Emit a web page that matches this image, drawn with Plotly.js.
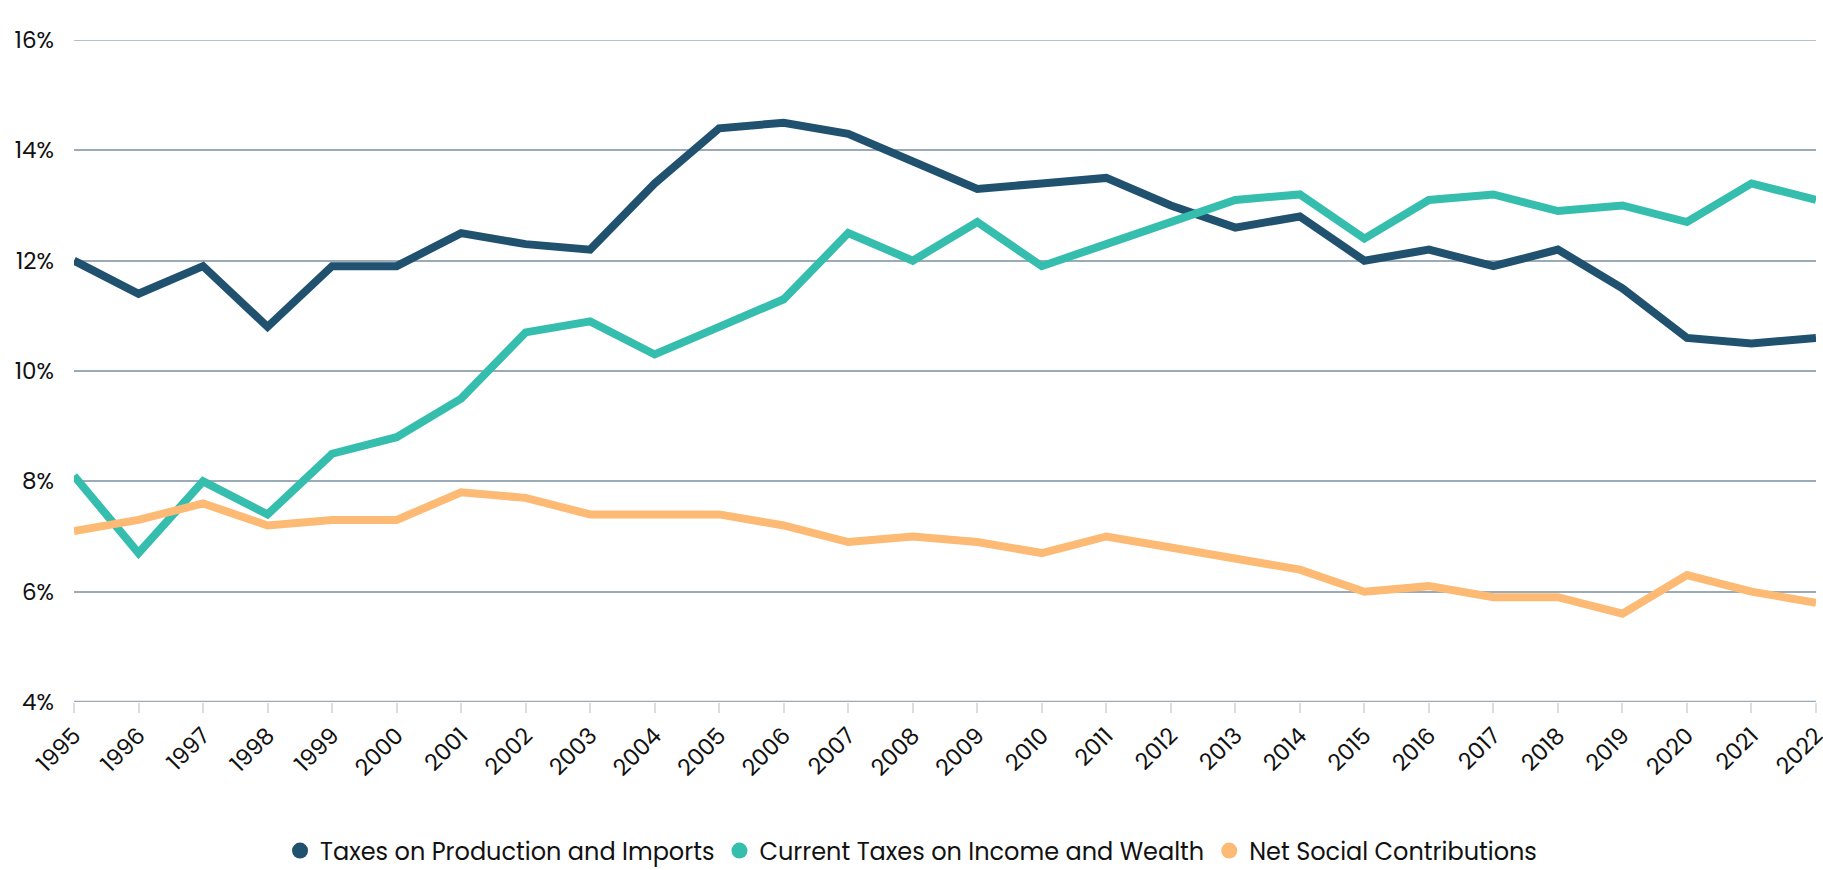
<!DOCTYPE html>
<html>
<head>
<meta charset="utf-8">
<script src="https://cdn.plot.ly/plotly-3.0.1.min.js"></script>
<style>html,body{margin:0;padding:0;background:#fff;}#chart{width:1823px;height:870px;}</style>
</head>
<body>
<div id="chart"></div>
<script>
const years = [1995,1996,1997,1998,1999,2000,2001,2002,2003,2004,2005,2006,2007,2008,2009,2010,2011,2012,2013,2014,2015,2016,2017,2018,2019,2020,2021,2022];
const productionImports = [12.0,11.4,11.9,10.8,11.9,11.9,12.5,12.3,12.2,13.4,14.4,14.5,14.3,13.8,13.3,13.4,13.5,13.0,12.6,12.8,12.0,12.2,11.9,12.2,11.5,10.6,10.5,10.6];
const incomeWealth = [8.1,6.7,8.0,7.4,8.5,8.8,9.5,10.7,10.9,10.3,10.8,11.3,12.5,12.0,12.7,11.9,12.3,12.7,13.1,13.2,12.4,13.1,13.2,12.9,13.0,12.7,13.4,13.1];
const socialContrib = [7.1,7.3,7.6,7.2,7.3,7.3,7.8,7.7,7.4,7.4,7.4,7.2,6.9,7.0,6.9,6.7,7.0,6.8,6.6,6.4,6.0,6.1,5.9,5.9,5.6,6.3,6.0,5.8];
const seriesNames = ['Taxes on Production and Imports','Current Taxes on Income and Wealth','Net Social Contributions'];
const yTickVals = [4,6,8,10,12,14,16];
const yTickText = ['4%','6%','8%','10%','12%','14%','16%'];

const colors = ['#20526f','#35bdad','#fdba74'];
const gridColor = '#9aabb7';
const seriesData = [productionImports, incomeWealth, socialContrib];
const traces = [];
seriesData.forEach((vals, i) => {
  traces.push({
    x: years, y: vals, type: 'scatter', mode: 'lines',
    name: seriesNames[i], showlegend: false, cliponaxis: false,
    line: {color: colors[i], width: 8, shape: 'linear'},
    hoverinfo: 'x+y+name'
  });
});
seriesNames.forEach((n, i) => {
  traces.push({
    x: [null], y: [null], type: 'scatter', mode: 'markers',
    name: n, showlegend: true,
    marker: {color: colors[i], size: 24, symbol: 'circle'}
  });
});

const font = 'Poppins, Lato, "Open Sans", sans-serif';
const layout = {
  width: 1823, height: 870,
  margin: {l: 74, r: 7, t: 40, b: 168, autoexpand: false},
  paper_bgcolor: '#ffffff', plot_bgcolor: '#ffffff',
  font: {family: font, color: '#111111', size: 24},
  xaxis: {
    range: [1995, 2022], tickmode: 'array', tickvals: years, ticktext: years.map(String),
    tickangle: -45, ticks: 'outside', ticklen: 10, tickwidth: 2, tickcolor: '#dddddd',
    ticklabeloverflow: 'allow', automargin: false,
    showgrid: false, zeroline: false, showline: false,
    tickfont: {family: font, size: 23, color: '#111111'}
  },
  yaxis: {
    range: [4, 16], tickmode: 'array', tickvals: yTickVals, ticktext: yTickText,
    showgrid: true, gridcolor: gridColor, gridwidth: 1.5, zeroline: false, showline: false,
    ticks: '', ticklabelstandoff: 19, ticklabeloverflow: 'allow', automargin: false,
    tickfont: {family: font, size: 23, color: '#111111'}
  },
  shapes: [
    {type: 'line', xref: 'paper', yref: 'y', x0: 0, x1: 1, y0: 4, y1: 4, line: {color: gridColor, width: 2.5}, layer: 'below'},
    {type: 'line', xref: 'paper', yref: 'y', x0: 0, x1: 1, y0: 16, y1: 16, line: {color: gridColor, width: 1.5}, layer: 'below'}
  ],
  legend: {
    orientation: 'h', x: 0.4805, xanchor: 'center', y: -0.225, yanchor: 'middle',
    font: {family: font, size: 24, color: '#111111'}, itemwidth: 30, tracegroupgap: 0
  },
  hovermode: 'closest'
};

Plotly.newPlot('chart', traces, layout, {displayModeBar: false});
</script>
</body>
</html>
